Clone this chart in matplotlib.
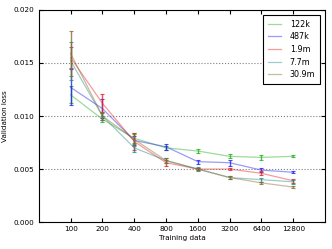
import numpy as np
import matplotlib.pyplot as plt

# training set sizes and model sizes
train_sizes = ["100", "200", "400", "800", "1600", "3200", "6400", "12800"]
model_labels = ["122k", "487k", "1.9m", "7.7m", "30.9m"]

# validation loss per model size
loss_122k = [0.0120, 0.0097, 0.0079, 0.0070, 0.0067, 0.0062, 0.0061, 0.0062]
loss_487k = [0.0127, 0.0107, 0.0077, 0.0071, 0.0057, 0.0056, 0.0049, 0.0047]
loss_1_9m = [0.0155, 0.0112, 0.0076, 0.0056, 0.0050, 0.0050, 0.0046, 0.0039]
loss_7_7m = [0.0152, 0.0100, 0.0070, 0.0058, 0.0050, 0.0042, 0.0040, 0.0038]
loss_30_9m = [0.0159, 0.0100, 0.0078, 0.0058, 0.0050, 0.0042, 0.0037, 0.0033]

# standard deviations
err_122k = [0.0008, 0.0003, 0.0004, 0.0002, 0.0002, 0.0002, 0.0002, 0.0001]
err_487k = [0.0017, 0.0009, 0.0004, 0.0003, 0.0002, 0.0003, 0.0002, 0.0001]
err_1_9m = [0.0010, 0.0009, 0.0008, 0.0003, 0.0001, 0.0001, 0.0002, 0.0002]
err_7_7m = [0.0018, 0.0004, 0.0004, 0.0002, 0.0002, 0.0001, 0.0002, 0.0002]
err_30_9m = [0.0021, 0.0004, 0.0006, 0.0002, 0.0001, 0.0001, 0.0001, 0.0001]

losses = [loss_122k, loss_487k, loss_1_9m, loss_7_7m, loss_30_9m]
errs = [err_122k, err_487k, err_1_9m, err_7_7m, err_30_9m]
colors = ["#22b022", "#2222ee", "#e82222", "#2a8a8a", "#8a6a2a"]

plt.rcParams['font.size'] = 5.2
fig = plt.figure(figsize=(3.32, 2.49), dpi=100)
ax = fig.add_axes([0.117, 0.108, 0.862, 0.852])

x = np.arange(1, len(train_sizes) + 1)
for loss, err, c, lab in zip(losses, errs, colors, model_labels):
    ax.plot(x, loss, color=c, alpha=0.45, lw=0.9, label=lab)
    ax.errorbar(x, loss, yerr=err, fmt='none', ecolor=c, alpha=0.8,
                elinewidth=1.0, capsize=1.6, capthick=0.8)

ax.set_xlim(0, 9)
ax.set_ylim(0, 0.020)
ax.set_xticks(x)
ax.set_xticklabels(train_sizes)
ax.set_yticks([0.0, 0.005, 0.010, 0.015, 0.020])
ax.set_yticklabels(["0.000", "0.005", "0.010", "0.015", "0.020"])
ax.yaxis.grid(True, linestyle=':', color='gray', lw=0.8)
ax.tick_params(direction='in', top=True, right=True, length=3, pad=3)
ax.set_xlabel("Training data", labelpad=2)
ax.set_ylabel("Validation loss", labelpad=4)

leg = ax.legend(loc='upper right', fancybox=False, framealpha=1,
                edgecolor='black', handlelength=1.6, borderpad=0.6,
                labelspacing=0.45, prop={'size': 5.8}, handletextpad=1.1,
                borderaxespad=0.6)
leg.get_frame().set_linewidth(0.8)

fig.savefig("out.png", dpi=100)
